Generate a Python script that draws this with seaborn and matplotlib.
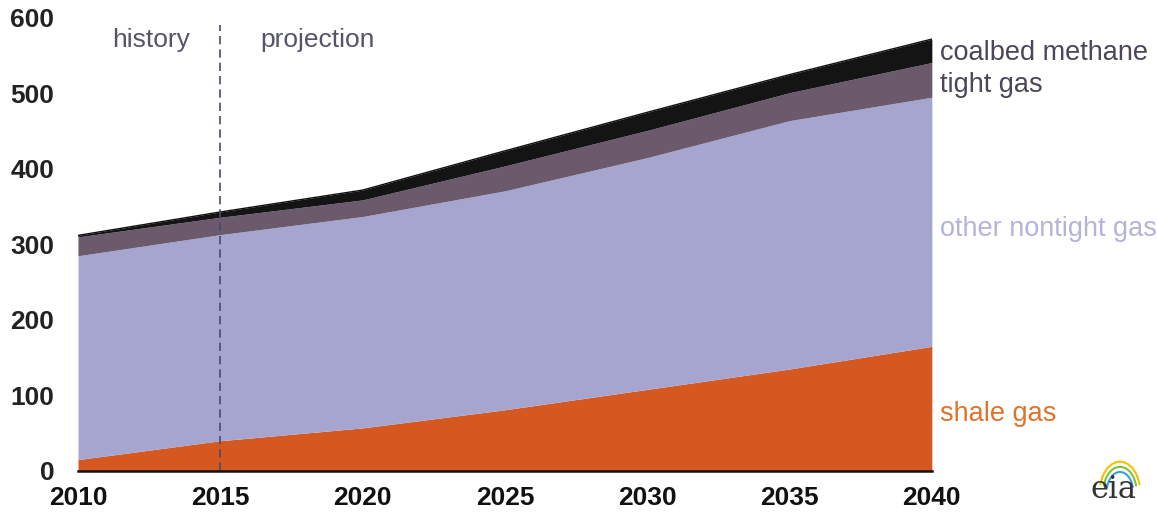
import matplotlib.pyplot as plt
import numpy as np
import pandas as pd
import seaborn as sns
from matplotlib.patches import Arc

# dry gas production by source
years = [2010, 2015, 2020, 2025, 2030, 2035, 2040]
shale_gas = [15, 40, 57, 81, 108, 135, 165]
other_nontight = [270, 273, 280, 290, 307, 329, 330]
tight_gas = [25, 23, 22, 33, 36, 37, 46]
coalbed_methane = [2, 7, 13, 20, 24, 24, 31]

series_names = ['shale gas', 'other nontight gas', 'tight gas', 'coalbed methane']
fill_colors = ['#d4581f', '#a5a5cf', '#6a5a6c', '#141414']
label_colors = ['#e0732c', '#b4b4d8', '#4c4658', '#4c4658']
label_y = [76, 320, 511, 553]

df = pd.DataFrame({'Year': years, 'shale gas': shale_gas,
                   'other nontight gas': other_nontight,
                   'tight gas': tight_gas, 'coalbed methane': coalbed_methane})

sns.set_style('white')
plt.rcParams['font.family'] = ['Liberation Sans', 'DejaVu Sans']

fig = plt.figure(figsize=(11.57, 5.13), dpi=100)
ax = fig.add_axes([0.0674, 0.082, 0.738, 0.883])

ax.stackplot(df['Year'], [df[c] for c in series_names], colors=fill_colors, linewidth=0)

# top edge of the stack
df['total'] = df[series_names].sum(axis=1)
sns.lineplot(data=df, x='Year', y='total', color='#111111', linewidth=1, ax=ax)

ax.axvline(2015, color='#4a4a66', linestyle=(0, (5, 3)), linewidth=1.2, ymax=0.985)
ax.text(2012.56, 571, 'history', fontsize=19, color='#55556a', ha='center', va='center')
ax.text(2018.43, 571, 'projection', fontsize=19, color='#55556a', ha='center', va='center')

for name, col, yy in zip(series_names, label_colors, label_y):
    ax.text(2040.3, yy, name, fontsize=19.5, color=col, ha='left', va='center', clip_on=False)

ax.set_xlim(2010, 2040)
ax.set_ylim(0, 600)
ax.set_xticks(range(2010, 2041, 5))
ax.set_yticks(range(0, 601, 100))
ax.set_xlabel('')
ax.set_ylabel('')
ax.tick_params(axis='x', direction='inout', length=8, width=1.5, colors='#111111',
               labelsize=19, pad=7)
ax.tick_params(axis='y', length=0, labelsize=19, labelcolor='#222222', pad=17)
for lab in ax.get_xticklabels() + ax.get_yticklabels():
    lab.set_fontweight('bold')
for s in ['top', 'right', 'left']:
    ax.spines[s].set_visible(False)
ax.spines['bottom'].set_color('#111111')
ax.spines['bottom'].set_linewidth(1.8)

# eia logo
fig.text(0.982, 0.015, 'eia', fontsize=22, family='DejaVu Serif', color='#333333',
         ha='right', va='bottom')
for i, c in enumerate(['#f2c200', '#7cc242', '#3aa0d8']):
    fig.add_artist(Arc((0.968, 0.04), 0.035 - i * 0.006, 0.12 - i * 0.02,
                       theta1=40, theta2=140, color=c, linewidth=1.5,
                       transform=fig.transFigure))

fig.savefig('out.png', dpi=100)
